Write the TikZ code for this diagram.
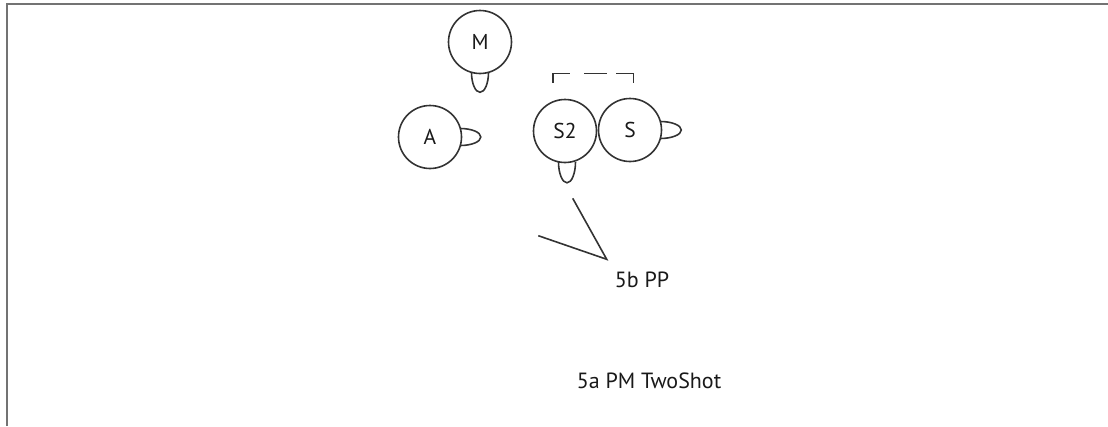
\documentclass[tikz,border=0pt]{standalone}
\usepackage{fontspec}
\setmainfont{PT Sans}
\usetikzlibrary{calc}
\begin{document}
\begin{tikzpicture}[x=1pt,y=1pt,
  person/.style={circle,draw=black!80,line width=1.6pt,minimum size=63pt,inner sep=0pt,font=\fontsize{21.5}{24}\selectfont,text=black!90},
  tail/.style={draw=black!80,line width=1.6pt},
  lbl/.style={inner sep=0pt,font=\fontsize{22}{25}\selectfont,text=black!90},
  frameline/.style={draw=black!55,line width=2pt}]
\useasboundingbox (0,0) rectangle (1108,-426);
% frame
\coordinate (fl) at (6.5,-426);
\coordinate (fc) at (6.5,-3.5);
\coordinate (fr) at (1108,-3.5);
\draw[frameline] (fl) -- (fc) -- (fr);
% people
\node[person] (M) at (480,-42) {M};
\node[person] (A) at (430,-137) {A};
\node[person] (S2) at (565,-131) {S2};
\node[person] (S) at (630,-130) {S};
% tails
\draw[tail] ($(M.center)+(-8.5,-30.3)$) arc (180:360:8.5 and 20);
\draw[tail] ($(A.center)+(30.3,8.5)$) arc (90:-90:20.5 and 8.5);
\draw[tail] ($(S2.center)+(-6.5,-30.8)$) arc (180:360:8.5 and 21);
\draw[tail] ($(S.center)+(30.3,8.5)$) arc (90:-90:21 and 8.5);
% dashed bracket
\coordinate (b1) at (552.7,-82.7);
\coordinate (b2) at (552.7,-73.3);
\coordinate (b3) at (633.3,-73.3);
\coordinate (b4) at (633.3,-82.7);
\draw[tail,dash pattern=on 27pt off 14pt on 23pt off 9pt on 30pt] (b1) -- (b2) -- (b3) -- (b4);
% camera
\coordinate (c1) at (572.7,-198.3);
\coordinate (cv) at (606.7,-259.3);
\coordinate (c2) at (538.3,-235.7);
\draw[tail] (c1) -- (cv) -- (c2);
% labels
\node[lbl] (pp) at (642,-280) {5b PP};
\node[lbl] (pm) at (649,-381) {5a PM TwoShot};
\end{tikzpicture}
\end{document}
